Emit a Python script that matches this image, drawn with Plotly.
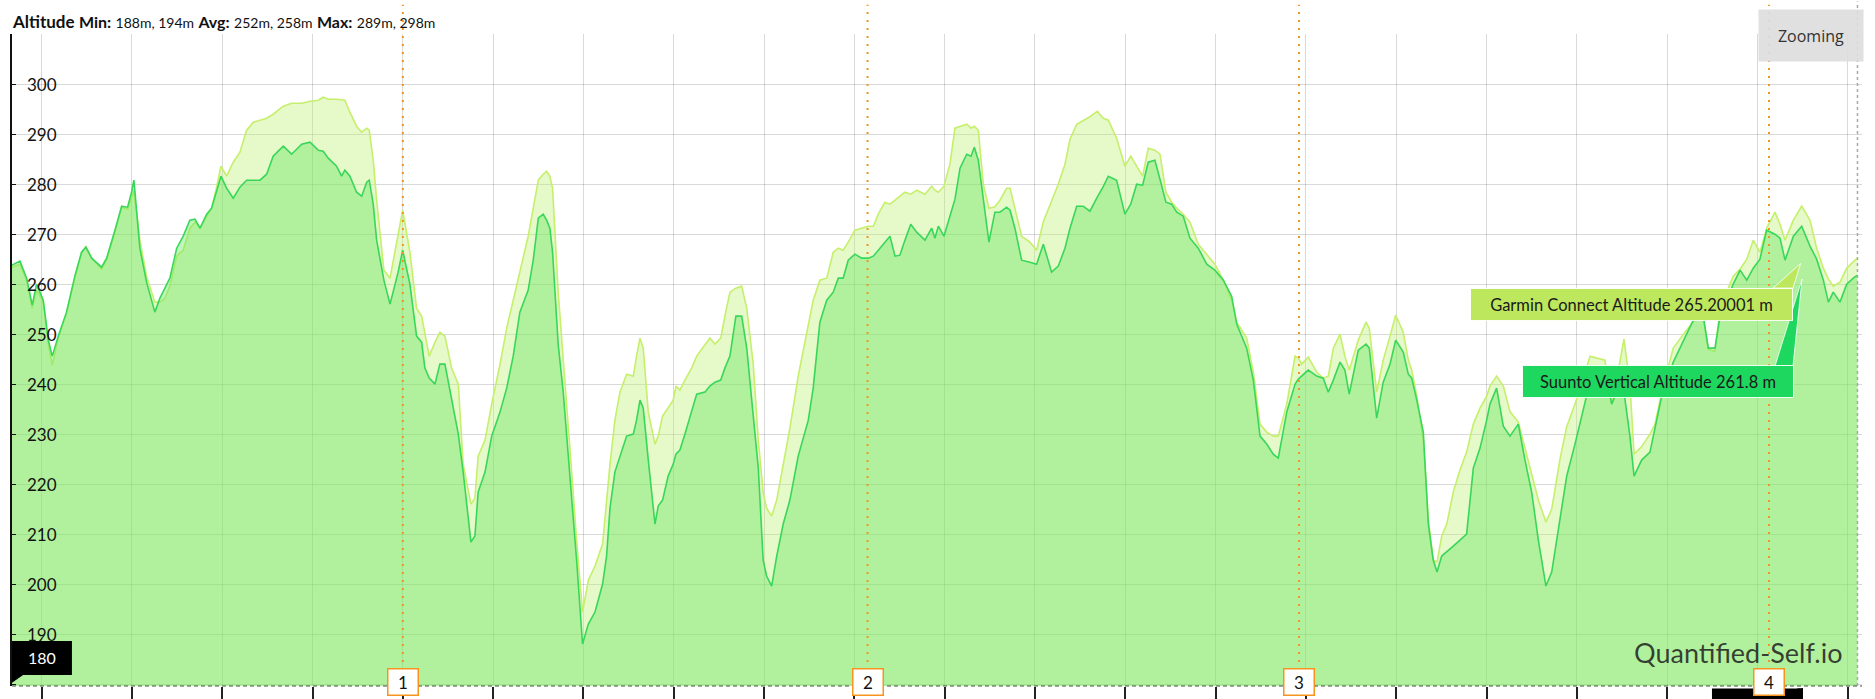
import plotly.graph_objects as go

# elapsed time (minutes) and altitude (m) of the two devices
minutes = [3.36, 3.80, 4.17, 4.48, 4.72, 5.09, 5.37, 5.59, 5.92, 6.38, 6.84, 7.21, 7.45, 7.77, 8.32, 8.60,
           9.06, 9.43, 9.76, 9.98, 10.11, 10.44, 10.81, 11.27, 11.55, 11.83, 12.10, 12.48, 12.84, 13.21,
           13.49, 13.77, 14.14, 14.41, 14.65, 14.93, 15.24, 15.61, 15.98, 16.35, 16.72, 17.09, 17.46,
           17.82, 18.38, 18.84, 19.40, 19.86, 20.32, 20.59, 20.87, 21.33, 21.61, 21.79, 22.07, 22.44,
           22.72, 23.00, 23.14, 23.36, 23.55, 23.95, 24.29, 24.74, 24.99, 25.39, 25.76, 26.04, 26.22,
           26.46, 26.78, 27.05, 27.33, 27.70, 28.07, 28.34, 28.77, 28.99, 29.17, 29.55, 29.92, 30.38,
           30.75, 31.11, 31.48, 31.94, 32.22, 32.50, 32.77, 32.96, 33.14, 33.29, 33.60, 33.88, 34.25,
           34.62, 34.95, 35.27, 35.64, 36.06, 36.28, 36.47, 36.74, 37.02, 37.39, 37.76, 37.94, 38.13,
           38.31, 38.59, 38.96, 39.14, 39.38, 39.69, 39.97, 40.12, 40.34, 40.62, 40.99, 41.27, 41.73,
           42.00, 42.28, 42.60, 42.83, 43.11, 43.44, 43.76, 44.04, 44.40, 44.68, 44.95, 45.14, 45.42,
           45.70, 46.06, 46.43, 46.89, 47.45, 47.72, 48.09, 48.47, 48.83, 49.11, 49.38, 49.66, 50.03,
           50.40, 50.77, 51.05, 51.32, 51.69, 51.97, 52.25, 52.52, 52.80, 53.12, 53.45, 53.91, 54.28,
           54.46, 54.65, 54.96, 55.29, 55.57, 55.85, 56.22, 56.46, 56.64, 56.86, 57.14, 57.45, 57.78,
           58.06, 58.43, 58.62, 58.89, 59.26, 59.72, 60.09, 60.46, 60.92, 61.29, 61.66, 61.94, 62.31,
           62.67, 63.04, 63.45, 63.78, 64.06, 64.52, 64.98, 65.30, 65.63, 65.96, 66.27, 66.64, 66.92,
           67.25, 67.57, 67.85, 68.21, 68.58, 69.04, 69.51, 69.96, 70.43, 70.89, 71.17, 71.72, 72.09,
           72.46, 72.83, 73.19, 73.47, 73.94, 74.40, 74.58, 74.77, 75.13, 75.60, 75.96, 76.24, 76.52,
           76.89, 77.16, 77.40, 77.90, 78.33, 78.51, 78.92, 79.28, 79.66, 79.97, 80.39, 80.67, 80.86,
           81.14, 81.50, 81.78, 82.05, 82.26, 82.52, 82.80, 83.16, 83.53, 83.90, 84.27, 84.64, 85.01,
           85.19, 85.56, 85.93, 86.30, 86.76, 87.13, 87.50, 87.87, 88.29, 88.61, 89.07, 89.44, 89.90,
           90.36, 90.73, 91.10, 91.56, 91.93, 92.21, 92.61, 92.94, 93.17, 93.59, 94.05, 94.33, 94.70,
           95.34, 95.90, 96.45, 97.00, 97.28, 97.65, 97.93, 98.66, 99.04, 99.41, 99.77, 100.14, 100.51,
           100.97, 101.25, 101.53, 101.99, 102.45, 102.91, 103.28, 103.65, 103.93, 104.20, 104.57,
           104.94, 105.31, 105.54]

garmin_alt = [263.4, 264.0, 260.8, 255.2, 258.8, 256.4, 248.0, 243.8, 249.2, 254.2, 261.2, 266.2, 267.5, 265.2,
              263.0, 264.8, 270.4, 275.4, 275.0, 277.6, 278.8, 268.8, 261.6, 256.4, 256.4, 257.2, 259.6,
              265.6, 266.8, 271.2, 272.4, 271.2, 273.6, 275.2, 278.8, 283.6, 281.6, 284.4, 286.4, 290.8,
              292.4, 292.8, 293.2, 294.0, 295.6, 296.2, 296.2, 296.6, 296.8, 297.4, 297.0, 297.0, 296.8,
              296.8, 294.4, 291.6, 290.4, 291.2, 290.8, 284.8, 276.8, 262.8, 261.2, 269.6, 274.8, 266.4,
              255.2, 253.6, 250.4, 245.6, 248.4, 250.4, 249.6, 243.2, 240.0, 224.0, 216.0, 217.2, 225.6,
              228.8, 236.0, 244.0, 251.2, 256.8, 262.4, 269.6, 275.2, 280.8, 282.0, 282.6, 281.6, 279.2,
              258.4, 245.6, 227.2, 208.8, 194.4, 200.8, 203.6, 208.0, 216.8, 224.0, 232.8, 238.4, 242.0,
              241.6, 245.6, 249.2, 247.2, 234.4, 228.0, 229.6, 233.6, 235.2, 236.8, 239.6, 238.8, 240.8,
              243.2, 245.6, 248.0, 249.2, 248.0, 249.2, 253.6, 258.4, 259.2, 259.6, 255.2, 244.0, 228.8,
              218.4, 215.2, 213.6, 216.8, 224.0, 231.2, 241.6, 252.0, 256.8, 260.8, 261.2, 266.4, 267.2,
              266.8, 268.4, 270.8, 271.2, 271.6, 271.6, 274.0, 276.4, 276.0, 276.8, 277.6, 278.4, 278.0,
              278.8, 278.0, 279.6, 278.8, 278.4, 279.6, 284.0, 291.2, 291.6, 292.0, 291.2, 291.6, 290.8,
              280.0, 275.2, 275.5, 276.8, 279.2, 279.2, 275.2, 269.6, 268.4, 266.8, 272.5, 276.6, 280.0,
              284.0, 289.0, 292.0, 292.8, 293.5, 294.6, 293.2, 292.8, 289.2, 283.6, 285.6, 283.6, 281.6,
              287.2, 286.8, 286.0, 278.4, 276.4, 275.2, 274.0, 272.4, 268.0, 266.0, 264.0, 260.8, 256.8,
              252.4, 249.2, 242.4, 232.0, 230.4, 229.6, 229.6, 236.0, 245.6, 245.2, 244.0, 245.4, 242.4,
              241.2, 241.6, 247.2, 250.0, 245.6, 242.8, 248.8, 252.4, 251.2, 238.4, 244.8, 249.6, 253.8,
              250.4, 244.8, 242.8, 237.6, 228.8, 212.8, 204.8, 204.4, 209.6, 212.0, 218.4, 222.8, 226.4,
              232.0, 235.2, 237.6, 239.6, 241.6, 239.6, 234.5, 232.4, 227.0, 222.0, 216.8, 212.4, 215.0,
              225.0, 231.5, 236.0, 241.0, 245.6, 245.2, 244.8, 236.0, 241.0, 249.0, 240.0, 226.0, 227.5,
              230.0, 232.0, 238.4, 247.2, 250.0, 252.5, 253.6, 247.0, 246.5, 255.2, 261.6, 263.0, 265.0,
              268.8, 266.4, 271.2, 274.4, 272.0, 268.8, 272.8, 275.6, 272.8, 267.2, 263.2, 261.0, 259.6,
              260.4, 263.2, 264.5, 265.20001]

suunto_alt = [263.8, 264.6, 261.2, 255.8, 260.0, 256.8, 248.8, 245.6, 249.6, 254.4, 261.6, 266.4, 267.4, 265.2,
              263.4, 265.2, 270.8, 275.6, 275.4, 278.4, 280.8, 267.2, 260.4, 254.4, 257.2, 259.2, 261.2,
              267.2, 269.6, 272.8, 273.0, 271.2, 274.0, 275.2, 278.4, 281.6, 279.2, 277.2, 279.4, 280.8,
              280.8, 280.8, 282.0, 285.6, 287.6, 286.0, 288.0, 288.4, 286.8, 286.6, 285.2, 283.6, 281.6,
              282.8, 281.6, 278.4, 277.6, 280.4, 280.8, 276.0, 268.8, 260.8, 256.0, 262.4, 266.8, 260.0,
              249.6, 248.4, 243.2, 241.2, 240.0, 244.0, 244.0, 236.8, 230.0, 222.4, 208.4, 209.6, 218.4,
              222.4, 229.6, 234.4, 239.2, 245.6, 254.4, 258.8, 264.8, 273.2, 274.0, 272.8, 271.2, 266.4,
              248.0, 238.4, 222.4, 204.8, 188.0, 192.0, 194.4, 200.0, 205.6, 215.2, 222.4, 225.6, 229.6,
              230.0, 232.8, 236.8, 235.2, 224.8, 212.0, 215.6, 216.8, 221.6, 224.0, 226.0, 226.8, 230.0,
              234.4, 238.0, 238.4, 239.6, 240.4, 240.8, 243.2, 245.6, 253.6, 253.6, 247.2, 232.8, 223.2,
              204.8, 201.6, 199.6, 205.6, 212.0, 216.8, 225.6, 232.8, 239.2, 252.4, 256.8, 258.4, 261.2,
              261.2, 264.8, 266.0, 265.2, 265.2, 265.6, 266.8, 268.4, 269.6, 265.6, 265.8, 268.8, 272.0,
              270.4, 268.8, 271.2, 269.2, 271.6, 269.6, 273.6, 277.0, 283.2, 286.0, 285.6, 287.4, 284.8,
              276.8, 268.4, 274.4, 274.4, 275.4, 274.8, 271.2, 264.8, 264.4, 264.0, 268.0, 262.4, 263.6,
              267.2, 271.2, 275.6, 275.6, 274.6, 277.4, 279.5, 281.6, 280.8, 274.0, 276.0, 280.0, 279.8,
              284.4, 284.8, 281.0, 276.4, 276.0, 274.4, 273.6, 269.2, 267.2, 264.0, 262.8, 260.8, 257.6,
              252.0, 247.2, 240.8, 229.6, 228.0, 226.0, 225.2, 234.4, 240.0, 241.0, 241.6, 242.8, 241.6,
              241.2, 238.4, 240.8, 244.4, 242.8, 238.0, 246.8, 248.0, 247.2, 233.2, 240.4, 244.0, 248.8,
              246.4, 242.0, 241.2, 236.8, 230.4, 212.0, 204.8, 202.4, 205.6, 206.4, 207.6, 208.8, 210.0,
              223.2, 227.2, 232.8, 236.0, 239.2, 231.6, 229.6, 232.0, 224.8, 218.4, 208.8, 199.6, 202.4,
              212.8, 221.6, 228.0, 235.2, 240.5, 242.5, 243.5, 236.0, 238.4, 238.5, 229.6, 221.6, 224.8,
              226.4, 231.2, 237.6, 244.4, 248.8, 252.8, 253.6, 247.2, 247.2, 253.6, 260.0, 262.8, 260.8,
              263.2, 265.0, 270.8, 270.0, 269.2, 264.8, 269.6, 271.6, 267.6, 265.0, 260.8, 256.4, 258.4,
              256.4, 260.0, 261.2, 261.8]

lap_minutes = [25.0, 50.73, 74.62, 100.64]
lap_labels = ["1", "2", "3", "4"]

y_ticks = [180, 190, 200, 210, 220, 230, 240, 250, 260, 270, 280, 290, 300, 310]
y_label_values = [190, 200, 210, 220, 230, 240, 250, 260, 270, 280, 290, 300]

FONT = "Lato"
GARMIN_BOX = "#bde75c"
SUUNTO_BOX = "#1ed75f"

fig = go.Figure()
fig.add_trace(go.Scatter(
    x=minutes, y=garmin_alt, name="Garmin Connect Altitude", mode="lines",
    line=dict(color="#c6ef6c", width=1.6), fill="tozeroy",
    fillcolor="rgba(190,240,120,0.4)", hoverinfo="skip"))
fig.add_trace(go.Scatter(
    x=minutes, y=suunto_alt, name="Suunto Vertical Altitude", mode="lines",
    line=dict(color="#38d75a", width=1.6), fill="tozeroy",
    fillcolor="rgba(100,230,93,0.4)", hoverinfo="skip"))

shapes = []
# lap markers
for m in lap_minutes:
    shapes.append(dict(type="line", xref="x", yref="paper", x0=m, x1=m, y0=0, y1=1.045,
                       line=dict(color="#f7941d", width=2, dash="2px,6px"), layer="above"))
# crosshair at hovered point
shapes.append(dict(type="line", xref="x", yref="paper", x0=minutes[-1], x1=minutes[-1], y0=0, y1=1.05,
                   line=dict(color="#a8a8a8", width=1.5, dash="3px,3px"), layer="above"))
# dashed baseline
shapes.append(dict(type="line", xref="paper", yref="paper", x0=0, x1=1, y0=0, y1=0,
                   line=dict(color="#4a4a4a", width=1.2, dash="4px,3px"), layer="above"))
# black crosshair labels
shapes.append(dict(type="rect", xref="paper", yref="paper", x0=0.0, x1=0.0324, y0=0.0169, y1=0.069,
                   fillcolor="black", line=dict(width=0), layer="above"))
shapes.append(dict(type="path", xref="paper", yref="paper",
                   path="M 0,0.0169 L 0,0.005 L 0.006,0.0169 Z",
                   fillcolor="black", line=dict(width=0), layer="above"))
shapes.append(dict(type="rect", xref="paper", yref="paper", x0=0.9189, x1=0.9665, y0=-0.03, y1=-0.004,
                   fillcolor="black", line=dict(width=0), layer="above"))
shapes.append(dict(type="path", xref="paper", yref="paper",
                   path="M 0.9650,-0.004 L 0.9681,-0.003 L 0.9681,-0.03 L 0.9650,-0.03 Z",
                   fillcolor="black", line=dict(width=0), layer="above"))
# tooltip callout wedges
shapes.append(dict(type="path", xref="paper", yref="paper",
                   path="M 0.9520,0.6104 L 0.9668,0.6480 L 0.9627,0.6104 Z",
                   fillcolor=GARMIN_BOX, line=dict(color="rgba(255,255,255,0.8)", width=1), layer="above"))
shapes.append(dict(type="path", xref="paper", yref="paper",
                   path="M 0.9530,0.4908 L 0.9676,0.6242 L 0.9627,0.4908 Z",
                   fillcolor=SUUNTO_BOX, line=dict(color="rgba(255,255,255,0.8)", width=1), layer="above"))

annotations = []
# y tick labels drawn inside the plot area, next to the axis
for v in y_label_values:
    annotations.append(dict(x=0.0072, y=v, xref="paper", yref="y", text=str(v), showarrow=False,
                            font=dict(family=FONT, size=17, color="#111"),
                            xanchor="left", yanchor="middle"))

for m, lab in zip(lap_minutes, lap_labels):
    annotations.append(dict(x=m, y=0.006, xref="x", yref="paper", text=lab, showarrow=False,
                            font=dict(family=FONT, size=17, color="#111"), bgcolor="white",
                            bordercolor="#f7941d", borderwidth=1.5, borderpad=2, width=25, height=21,
                            xanchor="center", yanchor="middle"))

annotations.append(dict(x=0.0162, y=0.043, xref="paper", yref="paper", text="180", showarrow=False,
                        font=dict(family=FONT, size=16, color="white"), xanchor="center", yanchor="middle"))

annotations.append(dict(
    x=-0.001, y=1.019, xref="paper", yref="paper", xanchor="left", yanchor="middle", showarrow=False,
    text=("<b>Altitude</b> <b style='font-size:16px'>Min:</b> <span style='font-size:14px'>188m, 194m</span> "
          "<b style='font-size:16px'>Avg:</b> <span style='font-size:14px'>252m, 258m</span> "
          "<b style='font-size:16px'>Max:</b> <span style='font-size:14px'>289m, 298m</span>"),
    font=dict(family=FONT, size=17, color="#111")))

annotations.append(dict(x=0.9724, y=0.9977, xref="paper", yref="paper", text="Zooming", showarrow=False,
                        font=dict(family="Open Sans", size=16, color="#333"),
                        bgcolor="rgba(221,221,221,0.92)", borderpad=4, width=96, height=43,
                        xanchor="center", yanchor="middle"))

annotations.append(dict(x=0.9903, y=0.052, xref="paper", yref="paper", text="Quantified-Self.io",
                        showarrow=False, font=dict(family=FONT, size=27, color="rgba(30,30,30,0.85)"),
                        xanchor="right", yanchor="middle"))

annotations.append(dict(x=0.8754, y=0.5851, xref="paper", yref="paper",
                        text="Garmin Connect Altitude 265.20001 m",
                        font=dict(family=FONT, size=16.5, color="#1a1a1a"),
                        bgcolor=GARMIN_BOX, bordercolor="rgba(255,255,255,0.9)", borderwidth=1,
                        borderpad=4, width=313, height=23, showarrow=False,
                        xanchor="center", yanchor="middle"))
annotations.append(dict(x=0.8897, y=0.4670, xref="paper", yref="paper",
                        text="Suunto Vertical Altitude 261.8 m",
                        font=dict(family=FONT, size=16.5, color="#1a1a1a"),
                        bgcolor=SUUNTO_BOX, bordercolor="rgba(255,255,255,0.9)", borderwidth=1,
                        borderpad=4, width=262, height=23, showarrow=False,
                        xanchor="center", yanchor="middle"))

fig.update_layout(
    width=1875, height=699,
    margin=dict(l=12, r=13, t=34, b=13, autoexpand=False),
    plot_bgcolor="white", paper_bgcolor="white",
    showlegend=False, hovermode=False,
    shapes=shapes, annotations=annotations,
    font=dict(family=FONT, size=15, color="#111"),
    xaxis=dict(range=[3.36, 105.79], tick0=0, dtick=5, showgrid=True, gridcolor="rgba(0,0,0,0.15)",
               gridwidth=1, zeroline=False, showline=False, ticks="outside", ticklen=14,
               tickwidth=1.5, tickcolor="#222", showticklabels=False, automargin=False),
    yaxis=dict(range=[179.6, 310.05], tickvals=y_ticks, showticklabels=False,
               showgrid=True, gridcolor="rgba(0,0,0,0.15)", gridwidth=1, zeroline=False, showline=True,
               linecolor="#111", linewidth=1.5, ticks="inside", ticklen=4, tickcolor="#111",
               automargin=False),
)

fig.write_html("out.html", config={"displayModeBar": False},
               post_script="document.body.style.margin='0px';document.body.style.overflow='hidden';")
